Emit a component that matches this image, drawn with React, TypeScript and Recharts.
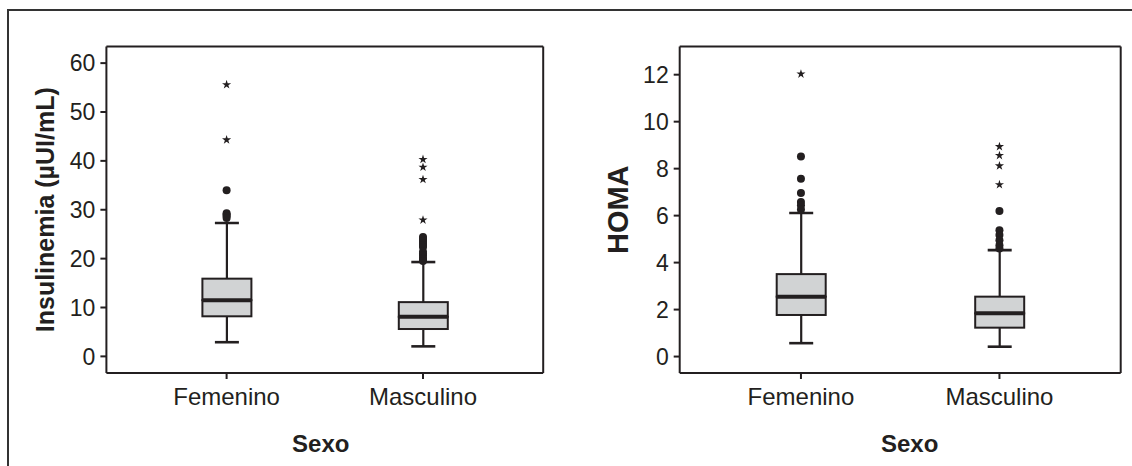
import React from "react";
import { Bar, ComposedChart, Scatter, Symbols, XAxis, YAxis } from "recharts";

const categories = ["Femenino", "Masculino"];

// Insulinemia (µUI/mL): bigotes, cuartiles y mediana por sexo
const insLow = [2.9, 2.05];
const insQ1 = [8.2, 5.6];
const insMedian = [11.5, 8.1];
const insQ3 = [15.9, 11.1];
const insHigh = [27.3, 19.3];
// atípicos (círculos) y extremos (estrellas)
const insDotsFem = [34.0, 29.3, 29.0, 28.7, 28.3];
const insDotsMasc = [24.4, 24.0, 23.6, 23.2, 22.8, 22.4, 21.4, 21.0, 20.6, 20.2, 19.8, 19.5];
const insStarsFem = [55.6, 44.3];
const insStarsMasc = [40.3, 38.7, 36.2, 27.9];
const insTicks = [0, 10, 20, 30, 40, 50, 60];
const insDomain = [-3.4, 63.4];

// HOMA
const homaLow = [0.57, 0.42];
const homaQ1 = [1.77, 1.23];
const homaMedian = [2.55, 1.84];
const homaQ3 = [3.51, 2.55];
const homaHigh = [6.11, 4.53];
const homaDotsFem = [8.52, 7.57, 6.96, 6.58, 6.44, 6.26];
const homaDotsMasc = [6.2, 5.38, 5.17, 4.95, 4.74, 4.6];
const homaStarsFem = [12.03];
const homaStarsMasc = [8.94, 8.56, 8.12, 7.32];
const homaTicks = [0, 2, 4, 6, 8, 10, 12];
const homaDomain = [-0.7, 13.2];

const INK = "#231f20";
const FILL = "#d1d3d4";
const CAP = 24;
const FONT = "'Liberation Sans', Arial, Helvetica, sans-serif";

function boxRows(low: number[], q1: number[], med: number[], q3: number[], high: number[]) {
  return categories.map((name, i) => ({
    name,
    base: low[i],
    whiskerLow: q1[i] - low[i],
    boxLow: med[i] - q1[i],
    boxHigh: q3[i] - med[i],
    whiskerHigh: high[i] - q3[i],
  }));
}

function pointRows(fem: number[], masc: number[]) {
  return [
    ...fem.map((value) => ({ name: categories[0], value })),
    ...masc.map((value) => ({ name: categories[1], value })),
  ];
}

const span = (p: any) => {
  const top = Math.min(p.y, p.y + p.height);
  const bottom = Math.max(p.y, p.y + p.height);
  return { cx: p.x + p.width / 2, top, bottom };
};

const Empty = () => <g />;

function LowWhisker(p: any) {
  const { cx, top, bottom } = span(p);
  return (
    <g stroke={INK}>
      <line x1={cx} x2={cx} y1={top} y2={bottom} strokeWidth={2.2} />
      <line x1={cx - CAP / 2} x2={cx + CAP / 2} y1={bottom} y2={bottom} strokeWidth={2.6} />
    </g>
  );
}

function HighWhisker(p: any) {
  const { cx, top, bottom } = span(p);
  return (
    <g stroke={INK}>
      <line x1={cx} x2={cx} y1={top} y2={bottom} strokeWidth={2.2} />
      <line x1={cx - CAP / 2} x2={cx + CAP / 2} y1={top} y2={top} strokeWidth={2.6} />
    </g>
  );
}

function LowBox(p: any) {
  const { top, bottom } = span(p);
  return <rect x={p.x} y={top} width={p.width} height={bottom - top} fill={FILL} stroke={INK} strokeWidth={2} />;
}

// mitad superior de la caja + línea de la mediana en su borde inferior
function HighBox(p: any) {
  const { top, bottom } = span(p);
  return (
    <g>
      <rect x={p.x} y={top} width={p.width} height={bottom - top} fill={FILL} stroke={INK} strokeWidth={2} />
      <line x1={p.x} x2={p.x + p.width} y1={bottom} y2={bottom} stroke={INK} strokeWidth={4} />
    </g>
  );
}

const Dot = (p: any) => <circle cx={p.cx} cy={p.cy} r={4} fill={INK} />;
const Star = (p: any) => <Symbols cx={p.cx} cy={p.cy} type="star" size={26} fill={INK} />;

const verticalTitle = (text: string, x: number, size: number) => (props: any) => {
  const vb = props.viewBox || { y: 46.5, height: 326.5 };
  const cy = vb.y + vb.height / 2;
  return (
    <text
      x={x}
      y={cy}
      transform={`rotate(-90 ${x} ${cy})`}
      textAnchor="middle"
      dominantBaseline="central"
      fontWeight="bold"
      fontSize={size}
      fill={INK}
    >
      {text}
    </text>
  );
};

const bottomTitle = (text: string, dx: number) => (props: any) => {
  const vb = props.viewBox || { x: 0, width: 0 };
  return (
    <text x={vb.x + vb.width / 2 + dx} y={452} textAnchor="middle" fontWeight="bold" fontSize={24} fill={INK}>
      {text}
    </text>
  );
};

const frameLine = { stroke: INK, strokeWidth: 2 };

function BoxPanel({
  width,
  axisWidth,
  marginRight,
  rows,
  dots,
  stars,
  ticks,
  domain,
  title,
  titleX,
  titleSize,
  sexoDx,
}: {
  width: number;
  axisWidth: number;
  marginRight: number;
  rows: ReturnType<typeof boxRows>;
  dots: { name: string; value: number }[];
  stars: { name: string; value: number }[];
  ticks: number[];
  domain: number[];
  title: string;
  titleX: number;
  titleSize: number;
  sexoDx: number;
}) {
  return (
    <ComposedChart
      width={width}
      height={466}
      data={rows}
      margin={{ top: 45.5, right: marginRight - 1, bottom: 0, left: 0 }}
    >
      <XAxis
        dataKey="name"
        type="category"
        allowDuplicatedCategory={false}
        height={93}
        padding={{ left: 22, right: 22 }}
        axisLine={frameLine}
        tickLine={{ stroke: INK, strokeWidth: 2 }}
        tickSize={6}
        tickMargin={9}
        interval={0}
        tick={{ fill: INK, fontSize: 24 }}
        label={{ content: bottomTitle("Sexo", sexoDx) }}
      />
      {/* ejes auxiliares sólo para cerrar el marco del gráfico */}
      <XAxis
        xAxisId="top"
        orientation="top"
        type="number"
        domain={[0, 1]}
        ticks={[0, 1]}
        height={1}
        tick={false}
        tickLine={false}
        axisLine={frameLine}
      />
      <YAxis
        type="number"
        domain={domain}
        ticks={ticks}
        allowDataOverflow
        width={axisWidth}
        axisLine={frameLine}
        tickLine={{ stroke: INK, strokeWidth: 2 }}
        tickSize={6}
        tickMargin={5}
        tick={{ fill: INK, fontSize: 23 }}
        label={{ content: verticalTitle(title, titleX, titleSize) }}
      />
      <YAxis
        yAxisId="right"
        orientation="right"
        type="number"
        domain={[0, 1]}
        ticks={[0, 1]}
        width={1}
        tick={false}
        tickLine={false}
        axisLine={frameLine}
      />
      <Bar dataKey="base" stackId="box" barSize={49} shape={Empty} isAnimationActive={false} />
      <Bar dataKey="whiskerLow" stackId="box" barSize={49} shape={LowWhisker} isAnimationActive={false} />
      <Bar dataKey="boxLow" stackId="box" barSize={49} shape={LowBox} isAnimationActive={false} />
      <Bar dataKey="boxHigh" stackId="box" barSize={49} shape={HighBox} isAnimationActive={false} />
      <Bar dataKey="whiskerHigh" stackId="box" barSize={49} shape={HighWhisker} isAnimationActive={false} />
      <Scatter data={dots} dataKey="value" shape={Dot} isAnimationActive={false} />
      <Scatter data={stars} dataKey="value" shape={Star} isAnimationActive={false} />
    </ComposedChart>
  );
}

export default function App() {
  return (
    <div style={{ position: "relative", width: 1132, height: 466, background: "#fff", fontFamily: FONT, overflow: "hidden" }}>
      <style>{"body{margin:0}"}</style>
      <div
        style={{
          position: "absolute",
          left: 7,
          top: 9,
          right: 0,
          bottom: 0,
          borderTop: "2px solid #333",
          borderLeft: "2px solid #333",
        }}
      />
      <div style={{ position: "absolute", left: 0, top: 0 }}>
        <BoxPanel
          width={560}
          axisWidth={106.4}
          marginRight={16.8}
          rows={boxRows(insLow, insQ1, insMedian, insQ3, insHigh)}
          dots={pointRows(insDotsFem, insDotsMasc)}
          stars={pointRows(insStarsFem, insStarsMasc)}
          ticks={insTicks}
          domain={insDomain}
          title="Insulinemia (µUI/mL)"
          titleX={44.6}
          titleSize={25}
          sexoDx={-4}
        />
      </div>
      <div style={{ position: "absolute", left: 560, top: 0 }}>
        <BoxPanel
          width={572}
          axisWidth={119.7}
          marginRight={11.3}
          rows={boxRows(homaLow, homaQ1, homaMedian, homaQ3, homaHigh)}
          dots={pointRows(homaDotsFem, homaDotsMasc)}
          stars={pointRows(homaStarsFem, homaStarsMasc)}
          ticks={homaTicks}
          domain={homaDomain}
          title="HOMA"
          titleX={58.4}
          titleSize={29}
          sexoDx={9.5}
        />
      </div>
    </div>
  );
}
